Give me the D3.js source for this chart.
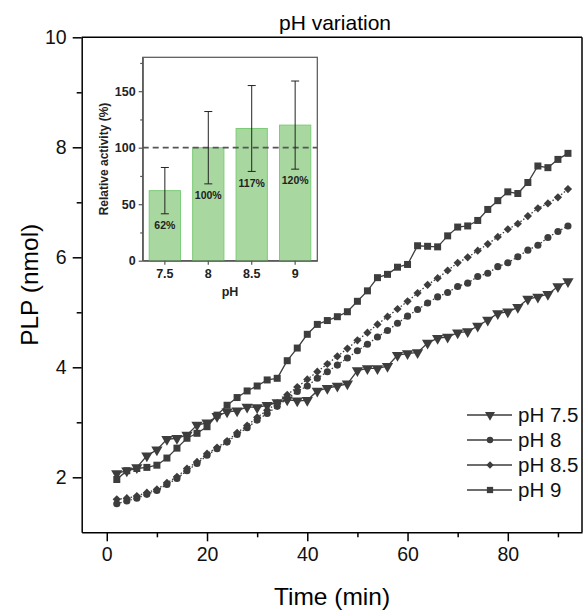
<!DOCTYPE html>
<html>
<head>
<meta charset="utf-8">
<script src="https://cdn.jsdelivr.net/npm/d3@7"></script>
<style>
  body { margin: 0; background: #fff; }
  svg { display: block; font-family: "Liberation Sans", Arial, sans-serif; }
  .axis path, .axis line { stroke: #000; stroke-width: 1.5; }
  .inset-axis path, .inset-axis line { stroke: #555; stroke-width: 1.2; }
</style>
</head>
<body>
<svg id="chart"></svg>
<script>
// time points (min)
const time = [2, 4, 6, 8, 10, 12, 14, 16, 18, 20, 22, 24, 26, 28, 30, 32, 34, 36, 38, 40, 42, 44, 46,
  48, 50, 52, 54, 56, 58, 60, 62, 64, 66, 68, 70, 72, 74, 76, 78, 80, 82, 84, 86, 88, 90, 92];

// PLP (nmol) per pH
const ph75 = [2.07, 2.12, 2.18, 2.39, 2.50, 2.69, 2.71, 2.77, 2.95, 2.99, 3.11, 3.19, 3.21, 3.28, 3.27, 3.31,
  3.36, 3.41, 3.39, 3.40, 3.57, 3.62, 3.66, 3.70, 3.94, 3.98, 3.98, 4.02, 4.22, 4.25, 4.27, 4.44, 4.53, 4.55,
  4.63, 4.65, 4.75, 4.86, 4.98, 5.01, 5.09, 5.24, 5.28, 5.33, 5.47, 5.56];
const ph8 = [1.52, 1.57, 1.62, 1.69, 1.76, 1.87, 1.98, 2.12, 2.25, 2.40, 2.52, 2.64, 2.78, 2.90, 3.04, 3.16,
  3.29, 3.43, 3.56, 3.66, 3.80, 3.92, 4.04, 4.17, 4.30, 4.42, 4.55, 4.67, 4.80, 4.93, 5.05, 5.17, 5.28, 5.36,
  5.47, 5.53, 5.65, 5.71, 5.83, 5.90, 6.01, 6.13, 6.22, 6.36, 6.47, 6.57];
const ph85 = [1.60, 1.62, 1.66, 1.72, 1.78, 1.90, 2.01, 2.16, 2.28, 2.43, 2.54, 2.66, 2.81, 2.94, 3.09, 3.22,
  3.35, 3.50, 3.64, 3.78, 3.92, 4.06, 4.20, 4.34, 4.49, 4.63, 4.78, 4.92, 5.06, 5.20, 5.35, 5.50, 5.62, 5.76,
  5.90, 6.00, 6.12, 6.24, 6.37, 6.51, 6.61, 6.75, 6.89, 6.98, 7.09, 7.24];
const ph9 = [1.96, 2.12, 2.16, 2.18, 2.22, 2.35, 2.53, 2.71, 2.80, 2.92, 3.13, 3.31, 3.45, 3.57, 3.66, 3.77,
  3.80, 4.12, 4.35, 4.60, 4.78, 4.85, 4.92, 5.01, 5.20, 5.39, 5.63, 5.69, 5.82, 5.87, 6.21, 6.20, 6.19, 6.39,
  6.55, 6.57, 6.67, 6.87, 7.03, 7.19, 7.16, 7.36, 7.66, 7.63, 7.78, 7.89];

const seriesNames = ['pH 7.5', 'pH 8', 'pH 8.5', 'pH 9'];

// inset: relative activity
const insetCats = ['7.5', '8', '8.5', '9'];
const activity = [62, 100, 117, 120];
const activityErr = [20.5, 32, 38, 39];
const activityLabels = ['62%', '100%', '117%', '120%'];

const xTicks = [0, 20, 40, 60, 80];
const yTicks = [2, 4, 6, 8, 10];
const insetYTicks = [0, 50, 100, 150];

const W = 583, H = 610;
const svg = d3.select('#chart').attr('width', W).attr('height', H);

// main scales
const x = d3.scaleLinear().domain([-5, 94.8]).range([81.7, 582]);
const y = d3.scaleLinear().domain([1, 10]).range([532.3, 37.3]);

const ink = '#3d3d3d';

// frame top / right
svg.append('line').attr('x1', x.range()[0]).attr('x2', x.range()[1])
    .attr('y1', y(10)).attr('y2', y(10)).attr('stroke', '#000').attr('stroke-width', 1.5);
svg.append('line').attr('x1', x.range()[1]).attr('x2', x.range()[1])
    .attr('y1', y(10)).attr('y2', y(1)).attr('stroke', '#000').attr('stroke-width', 1.5);

// axes: major + minor ticks
const xAxisG = svg.append('g').attr('class', 'axis')
    .attr('transform', `translate(0,${y(1)})`);
xAxisG.call(d3.axisBottom(x).tickValues([10, 30, 50, 70, 90]).tickSize(5).tickFormat('').tickSizeOuter(0));
xAxisG.append('g').call(d3.axisBottom(x).tickValues(xTicks).tickSize(9).tickPadding(6).tickSizeOuter(0))
    .call(g => g.select('.domain').remove());

const yAxisG = svg.append('g').attr('class', 'axis')
    .attr('transform', `translate(${x(-5)},0)`);
yAxisG.call(d3.axisLeft(y).tickValues([3, 5, 7, 9]).tickSize(5).tickFormat('').tickSizeOuter(0));
yAxisG.append('g').call(d3.axisLeft(y).tickValues(yTicks).tickSize(9).tickPadding(6).tickSizeOuter(0))
    .call(g => g.select('.domain').remove());

svg.selectAll('.axis text').attr('font-size', 19.5).attr('fill', '#111')
    .attr('font-family', '"Liberation Sans", Arial, sans-serif');

// axis titles + title
svg.append('text').attr('x', 335).attr('y', 30).attr('text-anchor', 'middle')
    .attr('font-size', 21).text('pH variation');
svg.append('text').attr('x', 332).attr('y', 605).attr('text-anchor', 'middle')
    .attr('font-size', 24.5).text('Time (min)');
svg.append('text').attr('transform', `translate(38,${y(5.5)}) rotate(-90)`)
    .attr('text-anchor', 'middle').attr('font-size', 24.5).text('PLP (nmol)');

// data series (diamond = square turned 45deg)
const series = [
  {name: seriesNames[0], values: ph75, symbol: d3.symbolTriangle, size: 55, rotate: 180, dash: null},
  {name: seriesNames[1], values: ph8, symbol: d3.symbolCircle, size: 40, rotate: 0, dash: '1.5,2'},
  {name: seriesNames[2], values: ph85, symbol: d3.symbolSquare, size: 34, rotate: 45, dash: '1.5,2'},
  {name: seriesNames[3], values: ph9, symbol: d3.symbolSquare, size: 49, rotate: 0, dash: null}
];

const line = d3.line().x(d => x(d[0])).y(d => y(d[1]));

series.forEach(s => {
  const pts = time.map((t, i) => [t, s.values[i]]);
  svg.append('path').datum(pts)
      .attr('d', line).attr('fill', 'none').attr('stroke', ink).attr('stroke-width', 1.3)
      .attr('stroke-dasharray', s.dash);
  svg.append('g').selectAll('path').data(pts).join('path')
      .attr('d', d3.symbol(s.symbol, s.size))
      .attr('transform', d => `translate(${x(d[0])},${y(d[1])}) rotate(${s.rotate})`)
      .attr('fill', ink);
});

// legend
const legend = svg.append('g');
series.forEach((s, i) => {
  const ly = 415 + i * 25;
  legend.append('line').attr('x1', 467).attr('x2', 512).attr('y1', ly).attr('y2', ly)
      .attr('stroke', ink).attr('stroke-width', 1.5);
  legend.append('path').attr('d', d3.symbol(s.symbol, s.size * 0.8))
      .attr('transform', `translate(490,${ly}) rotate(${s.rotate})`).attr('fill', ink);
  legend.append('text').attr('x', 518).attr('y', ly + 7).attr('font-size', 20.5)
      .attr('fill', '#111').text(s.name);
});

// ---- inset bar chart ----
const ix = d3.scaleBand().domain(insetCats).range([142.7, 317.3]).paddingInner(0.28).paddingOuter(0.15);
const iy = d3.scaleLinear().domain([0, 180]).range([260.7, 57.3]);

const inset = svg.append('g');
inset.append('rect').attr('x', 142.7).attr('y', 57.3).attr('width', 317.3 - 142.7)
    .attr('height', 260.7 - 57.3).attr('fill', '#fff').attr('stroke', '#555').attr('stroke-width', 1.2);

inset.selectAll('.bar').data(activity).join('rect')
    .attr('class', 'bar')
    .attr('x', (d, i) => ix(insetCats[i]))
    .attr('y', d => iy(d))
    .attr('width', ix.bandwidth())
    .attr('height', d => iy(0) - iy(d))
    .attr('fill', '#a8d8a0').attr('stroke', '#7ccc78').attr('stroke-width', 1);

// reference line at 100 %
inset.append('line').attr('x1', 142.7).attr('x2', 317.3).attr('y1', iy(100)).attr('y2', iy(100))
    .attr('stroke', '#555').attr('stroke-width', 1.8).attr('stroke-dasharray', '6,4');

// error bars
const cx = i => ix(insetCats[i]) + ix.bandwidth() / 2;
activity.forEach((v, i) => {
  const lo = iy(v - activityErr[i]), hi = iy(v + activityErr[i]);
  inset.append('line').attr('x1', cx(i)).attr('x2', cx(i)).attr('y1', lo).attr('y2', hi)
      .attr('stroke', '#222').attr('stroke-width', 1);
  [lo, hi].forEach(yy => inset.append('line').attr('x1', cx(i) - 4).attr('x2', cx(i) + 4)
      .attr('y1', yy).attr('y2', yy).attr('stroke', '#222').attr('stroke-width', 1));
  inset.append('text').attr('x', cx(i)).attr('y', iy(v - activityErr[i] - 10) + 4)
      .attr('text-anchor', 'middle').attr('font-size', 10.5).attr('font-weight', 'bold')
      .attr('fill', '#222').text(activityLabels[i]);
});

// inset axes
const ixAxis = inset.append('g').attr('class', 'inset-axis').attr('transform', `translate(0,${iy(0)})`)
    .call(d3.axisBottom(ix).tickSize(4).tickPadding(4).tickSizeOuter(0));
const iyAxis = inset.append('g').attr('class', 'inset-axis').attr('transform', 'translate(142.7,0)');
iyAxis.call(d3.axisLeft(iy).tickValues([25, 75, 125, 175]).tickSize(2.5).tickFormat('').tickSizeOuter(0));
iyAxis.append('g').call(d3.axisLeft(iy).tickValues(insetYTicks).tickSize(4).tickPadding(3).tickSizeOuter(0))
    .call(g => g.select('.domain').remove());
inset.selectAll('.inset-axis text').attr('font-size', 12.5).attr('font-weight', 'bold')
    .attr('fill', '#222').attr('font-family', '"Liberation Sans", Arial, sans-serif');

inset.append('text').attr('x', 230).attr('y', 296).attr('text-anchor', 'middle')
    .attr('font-size', 12.5).attr('font-weight', 'bold').attr('fill', '#222').text('pH');
inset.append('text').attr('transform', `translate(108,${iy(90)}) rotate(-90)`)
    .attr('text-anchor', 'middle').attr('font-size', 12).attr('font-weight', 'bold')
    .attr('fill', '#222').text('Relative activity (%)');
</script>
</body>
</html>
